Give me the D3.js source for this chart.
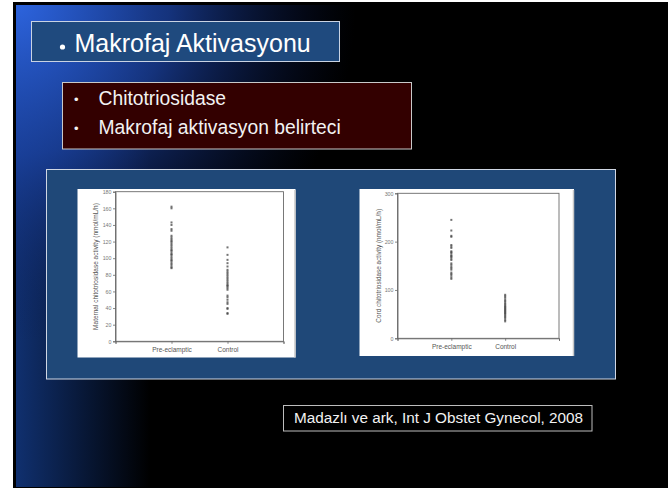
<!DOCTYPE html>
<html lang="tr">
<head>
<meta charset="UTF-8">
<title>Makrofaj Aktivasyonu</title>
<script src="https://d3js.org/d3.v7.min.js"></script>
<style>
    body { margin: 0; background: #fff; }
    svg { display: block; font-family: "Liberation Sans", Arial, sans-serif; }
</style>
</head>
<body>
<svg width="668" height="488"></svg>
<script>
// values
var categories = ["Pre-eclamptic", "Control"];

var maternalPre = [162, 160, 143, 140, 135, 133, 127, 125, 123, 121, 120, 118, 116, 114, 112, 110,
    109, 107, 105, 104, 102, 100, 98, 97, 95, 93, 91, 89, 88];
var maternalControl = [113, 104, 98, 94, 90, 86, 84, 82, 80, 78, 76, 74, 72, 70, 68, 67, 66, 64,
    62, 55, 53, 50, 47, 45, 40, 39, 34, 33];

var cordPre = [245, 223, 212, 210, 193, 190, 187, 180, 178, 176, 172, 170, 168, 165, 162, 155,
    152, 148, 145, 142, 136, 133, 130, 126, 123];
var cordControl = [90, 87, 84, 80, 77, 74, 71, 68, 66, 64, 62, 60, 58, 56, 54, 52, 50, 47, 45,
    42, 38, 35];

var maternalTicks = [0, 20, 40, 60, 80, 100, 120, 140, 160, 180];
var cordTicks = [0, 100, 200, 300];

var bulletItems = ["Chitotriosidase", "Makrofaj aktivasyon belirteci"];

var svg = d3.select("svg");

// background with blue glow on the left
var defs = svg.append("defs");
var lin = defs.append("linearGradient").attr("id", "bgLin")
    .attr("gradientUnits", "userSpaceOnUse")
    .attr("x1", 16).attr("y1", 0).attr("x2", 150).attr("y2", 0);
lin.append("stop").attr("offset", 0).attr("stop-color", "#10306f");
lin.append("stop").attr("offset", 1).attr("stop-color", "#000");

var rad = defs.append("radialGradient").attr("id", "bgRad")
    .attr("gradientUnits", "userSpaceOnUse")
    .attr("cx", 16).attr("cy", 2).attr("r", 340);
rad.append("stop").attr("offset", 0).attr("stop-color", "#2d64de").attr("stop-opacity", 1);
rad.append("stop").attr("offset", 0.45).attr("stop-color", "#1c44a6").attr("stop-opacity", 0.75);
rad.append("stop").attr("offset", 1).attr("stop-color", "#0a1a50").attr("stop-opacity", 0);

svg.append("rect").attr("x", 13).attr("y", 2).attr("width", 655).attr("height", 486).attr("fill", "#000");
svg.append("rect").attr("x", 16).attr("y", 5).attr("width", 652).attr("height", 482).attr("fill", "url(#bgLin)");
svg.append("rect").attr("x", 16).attr("y", 5).attr("width", 652).attr("height", 482).attr("fill", "url(#bgRad)");

// title box
svg.append("rect").attr("x", 31.5).attr("y", 21.5).attr("width", 308).attr("height", 40)
    .attr("fill", "#1f4a7e").attr("stroke", "#c9d3e3").attr("stroke-width", 1);
svg.append("circle").attr("cx", 62.5).attr("cy", 47).attr("r", 2.6).attr("fill", "#fff");
svg.append("text").attr("x", 74.5).attr("y", 52).attr("font-size", 25).attr("fill", "#fff")
    .text("Makrofaj Aktivasyonu");

// bullet box
svg.append("rect").attr("x", 62.5).attr("y", 82.5).attr("width", 349).attr("height", 66.5)
    .attr("fill", "#330000").attr("stroke", "#c9c9c9").attr("stroke-width", 1);
var items = svg.append("g").selectAll("g").data(bulletItems).enter().append("g")
    .attr("transform", function (d, i) { return "translate(0," + (105 + i * 29) + ")"; });
items.append("text").attr("x", 74).attr("y", -1).attr("font-size", 13).attr("fill", "#f2f2f2").text("\u2022");
items.append("text").attr("x", 98.5).attr("font-size", 19.3).attr("fill", "#f2f2f2")
    .text(function (d) { return d; });

// panel holding the two figures
svg.append("rect").attr("x", 46.5).attr("y", 169.5).attr("width", 569).attr("height", 209.5)
    .attr("fill", "#1f4878").attr("stroke", "#d0d7e4").attr("stroke-width", 1);

function dotPlot(opt) {
    var g = svg.append("g");
    g.append("rect").attr("x", opt.box[0]).attr("y", opt.box[1])
        .attr("width", opt.box[2]).attr("height", opt.box[3]).attr("fill", "#fff");
    g.append("line").attr("x1", opt.box[0] + opt.box[2] - 0.5).attr("x2", opt.box[0] + opt.box[2] - 0.5)
        .attr("y1", opt.box[1] + 1).attr("y2", opt.box[1] + opt.box[3])
        .attr("stroke", "#c8c8c8").attr("stroke-width", 1.5);

    var x = d3.scaleLinear().domain([0, 3]).range([opt.left, opt.right]);
    var y = d3.scaleLinear().domain([0, opt.max]).range([opt.bottom, opt.top]);

    // frame
    g.append("rect").attr("x", opt.left).attr("y", opt.top)
        .attr("width", opt.right - opt.left).attr("height", opt.bottom - opt.top)
        .attr("fill", "none").attr("stroke", "#6a6a6a").attr("stroke-width", 0.9);

    var ya = g.append("g").attr("transform", "translate(" + opt.left + ",0)")
        .call(d3.axisLeft(y).tickValues(opt.ticks).tickSize(2.5).tickPadding(1.5));
    var xa = g.append("g").attr("transform", "translate(0," + opt.bottom + ")")
        .call(d3.axisBottom(x).tickValues([0, 1, 2, 3]).tickSize(2.5).tickPadding(4)
            .tickFormat(function (d) { return categories[d - 1] || ""; }));
    ya.selectAll("text").attr("font-size", 5.3).attr("fill", "#777").attr("font-family", null);
    xa.selectAll("text").attr("font-size", 6.5).attr("fill", "#555").attr("font-family", null);
    g.selectAll(".domain").attr("stroke", "#6a6a6a").attr("stroke-width", 0.9);
    g.selectAll(".tick line").attr("stroke", "#6a6a6a").attr("stroke-width", 0.8);

    g.append("text")
        .attr("transform", "translate(" + opt.labelX + "," + ((opt.top + opt.bottom) / 2) + ") rotate(-90)")
        .attr("text-anchor", "middle").attr("font-size", opt.labelSize).attr("fill", "#555")
        .text(opt.label);

    [opt.pre, opt.control].forEach(function (vals, i) {
        g.append("g").selectAll("rect").data(vals).enter().append("rect")
            .attr("x", x(i + 1) - 1)
            .attr("y", function (d) { return y(d) - 1; })
            .attr("width", 2).attr("height", 2)
            .attr("fill", "#444").attr("opacity", 0.75);
    });
}

dotPlot({
    box: [77.5, 189, 218, 168.5],
    left: 115.5, right: 283.5, top: 191.7, bottom: 341.3,
    max: 180, ticks: maternalTicks,
    pre: maternalPre, control: maternalControl,
    label: "Maternal chitotriosidase activity (nmol/mL/h)", labelX: 98, labelSize: 6.5
});

dotPlot({
    box: [359.5, 189, 214.5, 167],
    left: 397.5, right: 559, top: 193.3, bottom: 338.3,
    max: 300, ticks: cordTicks,
    pre: cordPre, control: cordControl,
    label: "Cord chitotriosidase activity (nmol/mL/h)", labelX: 381, labelSize: 6.4
});

// citation
svg.append("rect").attr("x", 283.5).attr("y", 405.5).attr("width", 308.5).attr("height", 25.5)
    .attr("fill", "#000").attr("stroke", "#bdbdbd").attr("stroke-width", 1);
svg.append("text").attr("x", 294).attr("y", 423.3).attr("font-size", 15.3).attr("fill", "#f2f2f2")
    .text("Madazlı ve ark, Int J Obstet Gynecol, 2008");
</script>
</body>
</html>
